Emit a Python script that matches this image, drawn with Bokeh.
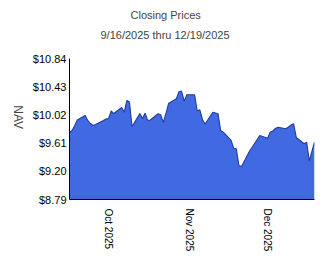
import math
from datetime import datetime
from bokeh.plotting import figure
from bokeh.models import (Range1d, FixedTicker, NumeralTickFormatter, Title,
                          ColumnDataSource)
from bokeh.embed import file_html
from bokeh.resources import INLINE

dates = [
    "2025-09-16", "2025-09-17", "2025-09-18", "2025-09-19", "2025-09-22", "2025-09-23",
    "2025-09-24", "2025-09-25", "2025-09-26", "2025-09-29", "2025-09-30",
    "2025-10-01", "2025-10-02", "2025-10-03", "2025-10-06", "2025-10-07", "2025-10-08",
    "2025-10-09", "2025-10-10", "2025-10-13", "2025-10-14", "2025-10-15", "2025-10-16",
    "2025-10-17", "2025-10-20", "2025-10-21", "2025-10-22", "2025-10-23", "2025-10-24",
    "2025-10-27", "2025-10-28", "2025-10-29", "2025-10-30", "2025-10-31",
    "2025-11-03", "2025-11-04", "2025-11-05", "2025-11-06", "2025-11-07", "2025-11-10",
    "2025-11-11", "2025-11-12", "2025-11-13", "2025-11-14", "2025-11-17", "2025-11-18",
    "2025-11-19", "2025-11-20", "2025-11-21", "2025-11-24", "2025-11-25", "2025-11-26",
    "2025-11-28",
    "2025-12-01", "2025-12-02", "2025-12-03", "2025-12-04", "2025-12-05", "2025-12-08",
    "2025-12-09", "2025-12-10", "2025-12-11", "2025-12-12", "2025-12-15", "2025-12-16",
    "2025-12-17", "2025-12-18", "2025-12-19",
]
nav = [
    9.768, 9.793, 9.866, 9.946, 10.011, 9.939,
    9.895, 9.866, 9.880, 9.939, 9.961,
    9.968, 10.077, 10.040, 10.128, 10.059, 10.229,
    10.207, 9.851, 10.040, 9.968, 10.045, 9.939,
    9.946, 10.036, 10.021, 9.910, 10.040, 10.185,
    10.254, 10.357, 10.367, 10.220, 10.312,
    10.312, 10.080, 10.094, 9.953, 9.888, 10.059,
    10.048, 10.036, 9.793, 9.768, 9.648, 9.536,
    9.527, 9.284, 9.270, 9.488, 9.546, 9.604,
    9.721,
    9.681, 9.768, 9.786, 9.822, 9.841, 9.818,
    9.844, 9.873, 9.891, 9.692, 9.600, 9.623,
    9.347, 9.488, 9.623,
]
y_ticks = [8.79, 9.20, 9.61, 10.02, 10.43, 10.84]
x_tick_dates = ["2025-10-01", "2025-11-01", "2025-12-01"]
x_tick_labels = ["Oct  2025", "Nov  2025", "Dec  2025"]

FONT = "Liberation Sans"

xs = [datetime.strptime(d, "%Y-%m-%d") for d in dates]
base = [y_ticks[0]] * len(xs)
src = ColumnDataSource(dict(x=xs, y=nav, base=base))

def ms(d):
    return datetime.strptime(d, "%Y-%m-%d").timestamp() * 1000.0

p = figure(width=324, height=267, x_axis_type="datetime",
           output_backend="svg", toolbar_location=None)
p.min_border = 0
p.min_border_left = 66
p.min_border_right = 10
p.min_border_top = 58
p.min_border_bottom = 68
p.x_range = Range1d(xs[0], xs[-1])
p.y_range = Range1d(y_ticks[0], y_ticks[-1])

p.varea(x="x", y1="base", y2="y", source=src, fill_color="#4169e1")
p.line(x="x", y="y", source=src, line_color="#1f3c9c", line_width=1.1)

p.grid.visible = False
p.outline_line_color = None
p.background_fill_color = "white"
p.border_fill_color = "white"

yax = p.yaxis[0]
yax.ticker = FixedTicker(ticks=y_ticks)
yax.formatter = NumeralTickFormatter(format="$0.00")
yax.major_tick_line_color = None
yax.minor_tick_line_color = None
yax.major_tick_out = 0
yax.major_tick_in = 0
yax.major_label_text_font = FONT
yax.major_label_text_font_size = "11px"
yax.major_label_text_color = "black"
yax.axis_line_color = "black"
yax.major_label_standoff = 3
yax.axis_label = "NAV"
yax.axis_label_text_font = FONT
yax.axis_label_text_font_size = "12px"
yax.axis_label_text_font_style = "normal"
yax.axis_label_standoff = 12
if hasattr(yax, "axis_label_orientation"):
    yax.axis_label_orientation = -math.pi / 2

xax = p.xaxis[0]
tick_ms = [ms(d) for d in x_tick_dates]
xax.ticker = FixedTicker(ticks=tick_ms)
xax.major_label_overrides = {t: l for t, l in zip(tick_ms, x_tick_labels)}
xax.major_label_orientation = -math.pi / 2
xax.major_tick_line_color = None
xax.minor_tick_line_color = None
xax.major_tick_out = 0
xax.major_tick_in = 0
xax.major_label_text_font = FONT
xax.major_label_text_font_size = "10px"
xax.major_label_text_color = "black"
xax.axis_line_color = "black"
xax.major_label_standoff = 9

# spacer between the frame and the subtitle
p.add_layout(Title(text=" ", text_font_size="1px", standoff=10), "above")
p.add_layout(Title(text="9/16/2025 thru 12/19/2025", align="left", offset=31,
                   text_font=FONT, text_font_size="11px", text_font_style="normal",
                   standoff=9), "above")
p.add_layout(Title(text="Closing Prices", align="left", offset=61,
                   text_font=FONT, text_font_size="11px", text_font_style="normal",
                   standoff=4), "above")

open("out.html", "w").write(file_html(p, INLINE))
